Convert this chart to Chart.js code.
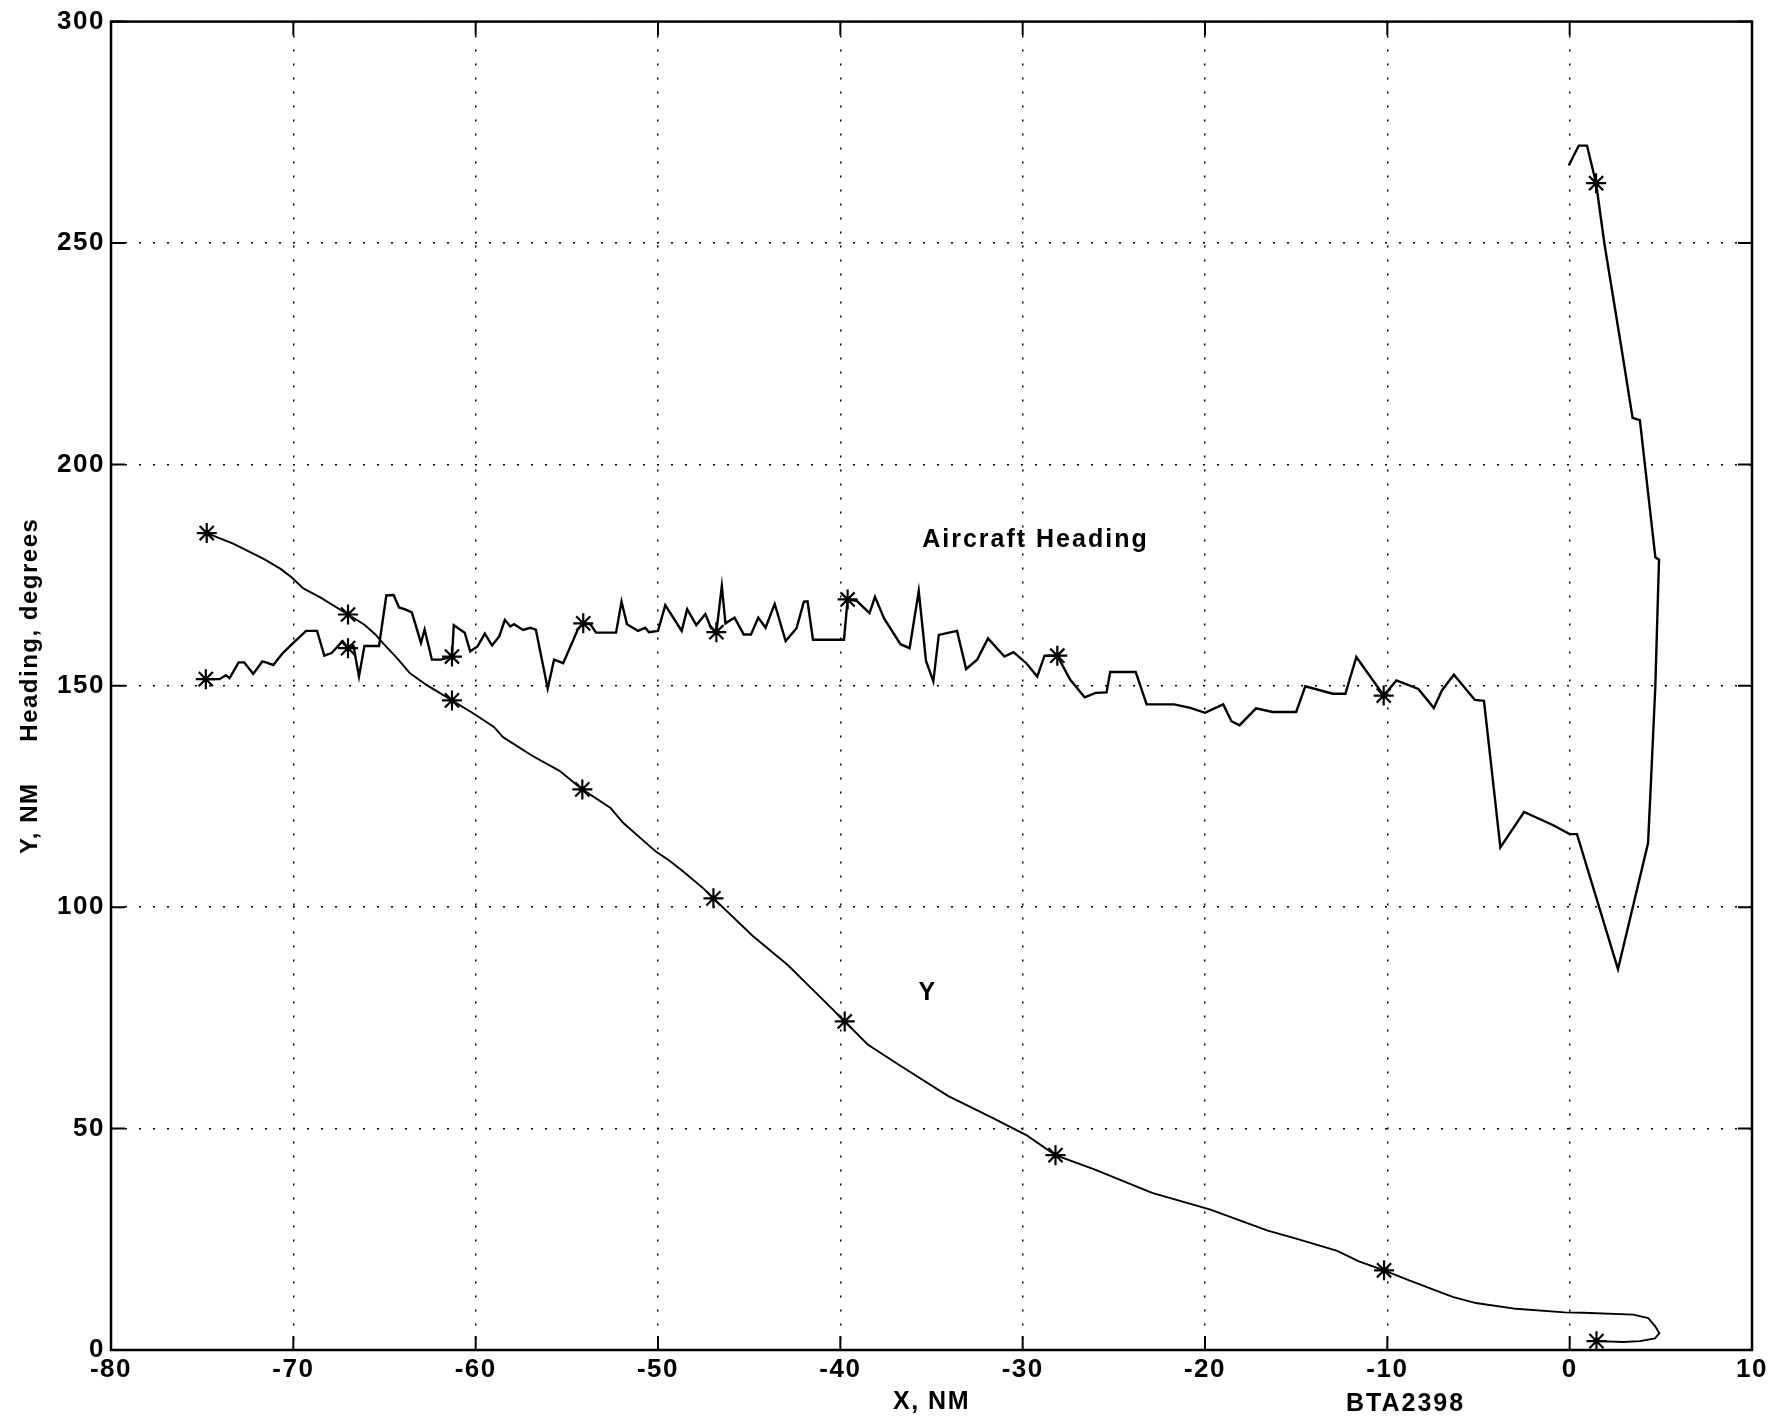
<!DOCTYPE html>
<html>
<head>
<meta charset="utf-8">
<script src="https://cdn.jsdelivr.net/npm/chart.js@4.4.0/dist/chart.umd.min.js"></script>
<style>
  html, body { margin: 0; padding: 0; background: #fff; }
  #wrap { width: 1790px; height: 1425px; position: relative; }
</style>
</head>
<body>
<div id="wrap"><canvas id="grafico"></canvas></div>
<script>
// Trajetória: posição Y (NM) em função de X (NM)
const trackX = [-74.75, -73.3, -71.6, -70.7, -70.1, -69.45, -68.5, -67.0, -66.1, -65.5, -65.1, -64.3, -63.6, -62.7,
  -61.3, -60.1, -59.0, -58.5, -56.9, -55.4, -54.15, -52.6, -51.9, -50.1, -49.4, -48.6, -47.5, -46.96, -44.8, -42.9,
  -41.0, -39.76, -38.5, -36.6, -34.1, -31.6, -29.75, -28.2, -26.0, -22.9, -19.7, -16.6, -14.86, -12.75, -11.56,
  -10.18, -8.8, -7.43, -6.42, -5.14, -2.94, -0.28, 0.73, 3.49, 4.31, 4.68, 4.92, 4.68, 3.85, 2.94, 1.47];
const trackY = [184.5, 182.1, 178.6, 176.4, 174.5, 172, 169.9, 166.1, 163.8, 161.6, 159.7, 156.2, 152.8, 150.2,
  146.7, 143.7, 140.7, 138.4, 134.2, 130.8, 126.6, 122.4, 119, 112.5, 110.6, 108, 104.2, 102, 93.5, 87,
  79.3, 74.2, 69, 63.9, 57.4, 52.3, 48.4, 44, 40.7, 35.5, 31.7, 27, 25, 22.4, 20,
  18, 15.7, 13.6, 12, 10.6, 9.3, 8.5, 8.4, 8.0, 7.2, 5.4, 3.8, 2.6, 2.0, 1.8, 2.0];

// Rumo da aeronave (graus) em função de X (NM)
const headingX = [-74.8, -74.05, -73.7, -73.5, -73.0, -72.7, -72.2, -71.7, -71.5, -71.1, -70.6, -70.0, -69.3, -68.7,
  -68.3, -67.9, -67.3, -67.0, -66.7, -66.4, -66.1, -65.3, -64.9, -64.5, -64.2, -63.9, -63.5, -63.0, -62.8, -62.4,
  -61.9, -61.3, -61.2, -60.6, -60.3, -59.9, -59.5, -59.1, -58.7, -58.4, -58.1, -57.9, -57.4, -57.0, -56.7, -56.05,
  -55.7, -55.2, -54.4, -54.1, -53.7, -53.4, -52.3, -52.0, -51.7, -51.1, -50.7, -50.5, -50.0, -49.6, -48.7, -48.4,
  -47.9, -47.4, -47.1, -46.8, -46.5, -46.3, -45.8, -45.3, -44.9, -44.5, -44.1, -43.6, -43.0, -42.4, -42.0, -41.8,
  -41.5, -39.8, -39.6, -39.1, -38.4, -38.1, -37.6, -36.7, -36.2, -35.7, -35.3, -34.9, -34.6, -33.6, -33.1, -32.5,
  -31.9, -31.0, -30.5, -29.8, -29.2, -28.8, -28.1, -27.4, -26.6, -26.0, -25.4, -25.2, -23.8, -23.2, -21.7, -20.8,
  -20.0, -19.0, -18.55, -18.1, -17.2, -16.3, -15.0, -14.5, -13.0, -12.3, -11.7, -10.2, -9.5, -8.3, -7.45, -7.0,
  -6.35, -5.2, -4.7, -3.8, -2.5, -0.9, 0, 0.4, 2.65, 4.3, 4.5, 4.7, 4.9, 4.7, 3.85, 3.45, 2.85, 1.9, 1.45, 0.95,
  0.5, -0.05];
const headingY = [151.5, 151.5, 152.4, 151.7, 155.3, 155.3, 152.7, 155.5, 155.3, 154.7, 157.3, 159.7, 162.4, 162.4,
  156.8, 157.4, 160.1, 158.5, 159, 152.1, 159, 159, 170.4, 170.5, 167.7, 167.3, 166.6, 159.7, 162.7, 155.9,
  155.9, 156.6, 163.7, 162, 157.8, 158.9, 161.8, 159.1, 161.2, 164.9, 163.4, 163.9, 162.6, 163.1, 162.7, 149.4,
  155.9, 155.1, 162.7, 164.1, 163.9, 162, 162, 169, 163.9, 162.4, 163.1, 162.1, 162.4, 168.2, 162.4, 167.3,
  163.7, 166.2, 163.1, 162.1, 172.5, 164.1, 165.4, 161.6, 161.6, 165.4, 163.1, 168.5, 160.1, 163, 169, 169.1,
  160.4, 160.4, 169.5, 169.2, 166.4, 170.1, 165.2, 159.4, 158.5, 171.4, 155.6, 151, 161.5, 162.4, 153.8, 155.9,
  160.7, 156.6, 157.6, 155.1, 152.1, 156.8, 156.8, 151.4, 147.4, 148.4, 148.5, 153.1, 153.1, 145.8, 145.8, 145,
  143.9, 145.8, 142, 141.1, 144.9, 144.1, 144.1, 149.9, 148.2, 148.2, 156.5, 147.8, 151.2, 149.3, 145, 149,
  152.5, 146.8, 146.6, 113.5, 121.5, 118.5, 116.5, 116.5, 86, 114.5, 132, 150, 178.5, 179, 210, 210.5, 226, 250,
  263.5, 272, 272, 267.5];

// Marcas de tempo (asteriscos)
const trackMarkX = [-74.75, -67.0, -61.3, -54.15, -46.96, -39.76, -28.2, -10.18, 1.47];
const trackMarkY = [184.5, 166.1, 146.7, 126.6, 102, 74.2, 44, 18, 2.0];
const headingMarkX = [-74.8, -67.0, -61.3, -54.1, -46.8, -39.6, -28.1, -10.2, 1.45];
const headingMarkY = [151.5, 158.5, 156.6, 164.1, 162.1, 169.5, 156.8, 147.8, 263.5];

// Eixos
const xTicks = [-80, -70, -60, -50, -40, -30, -20, -10, 0, 10];
const yTicks = [0, 50, 100, 150, 200, 250, 300];

const fonte = "'Liberation Sans', Arial, Helvetica, sans-serif";
const pares = (xs, ys) => xs.map((x, i) => ({ x: x, y: ys[i] }));

// Rótulos dentro do gráfico
const rotulos = [
  { text: 'Aircraft Heading', x: -29.3, y: 182.8 },
  { text: 'Y', x: -35.2, y: 80.6 }
];

const molduraPlugin = {
  id: 'moldura',
  beforeDraw(chart) {
    chart.ctx.letterSpacing = '1.5px';
  },
  afterDraw(chart) {
    const ctx = chart.ctx;
    const a = chart.chartArea;
    const sx = chart.scales.x;
    const sy = chart.scales.y;
    ctx.save();
    ctx.strokeStyle = '#000';
    ctx.lineWidth = 2;
    ctx.beginPath();
    xTicks.forEach(v => {
      const p = sx.getPixelForValue(v);
      ctx.moveTo(p, a.bottom); ctx.lineTo(p, a.bottom - 14);
      ctx.moveTo(p, a.top); ctx.lineTo(p, a.top + 14);
    });
    yTicks.forEach(v => {
      const p = sy.getPixelForValue(v);
      ctx.moveTo(a.left, p); ctx.lineTo(a.left + 14, p);
      ctx.moveTo(a.right, p); ctx.lineTo(a.right - 14, p);
    });
    ctx.stroke();
    ctx.lineWidth = 2.5;
    ctx.strokeRect(a.left, a.top, a.right - a.left, a.bottom - a.top);

    ctx.fillStyle = '#000';
    ctx.font = 'bold 25px ' + fonte;
    ctx.letterSpacing = '2px';
    ctx.textAlign = 'center';
    ctx.textBaseline = 'middle';
    rotulos.forEach(r => {
      ctx.fillText(r.text, sx.getPixelForValue(r.x), sy.getPixelForValue(r.y));
    });
    ctx.fillText('BTA2398', sx.getPixelForValue(-9.0), chart.height - 21);
    ctx.restore();
  }
};

const estiloEixo = {
  grid: { color: '#000', lineWidth: 1.5, drawTicks: false },
  border: { display: false, dash: [2, 12] }
};

new Chart(document.getElementById('grafico'), {
  type: 'scatter',
  data: {
    datasets: [
      {
        label: 'Aircraft Heading',
        data: pares(headingX, headingY),
        showLine: true,
        borderColor: '#000',
        borderWidth: 2.4,
        pointRadius: 0,
        tension: 0
      },
      {
        label: 'Y',
        data: pares(trackX, trackY),
        showLine: true,
        borderColor: '#000',
        borderWidth: 1.9,
        pointRadius: 0,
        tension: 0
      },
      {
        label: 'Heading marks',
        data: pares(headingMarkX, headingMarkY),
        showLine: false,
        pointStyle: 'star',
        pointRadius: 10,
        pointBorderWidth: 2.2,
        borderColor: '#000',
        backgroundColor: '#000'
      },
      {
        label: 'Y marks',
        data: pares(trackMarkX, trackMarkY),
        showLine: false,
        pointStyle: 'star',
        pointRadius: 10,
        pointBorderWidth: 2.2,
        borderColor: '#000',
        backgroundColor: '#000'
      }
    ]
  },
  options: {
    responsive: true,
    maintainAspectRatio: false,
    animation: false,
    layout: { padding: { top: 21, right: 38, bottom: 0, left: 0 } },
    plugins: {
      legend: { display: false },
      tooltip: { enabled: false }
    },
    scales: {
      x: {
        type: 'linear',
        min: -80,
        max: 10,
        afterBuildTicks: s => { s.ticks = xTicks.map(v => ({ value: v })); },
        afterFit: s => { s.height = 75; },
        grid: estiloEixo.grid,
        border: estiloEixo.border,
        ticks: {
          color: '#000',
          padding: 4,
          maxRotation: 0,
          autoSkip: false,
          font: { family: fonte, size: 26, weight: 'bold' }
        },
        title: {
          display: true,
          text: 'X, NM',
          color: '#000',
          padding: { top: 0, bottom: 8 },
          font: { family: fonte, size: 25, weight: 'bold' }
        }
      },
      y: {
        type: 'linear',
        min: 0,
        max: 300,
        afterBuildTicks: s => { s.ticks = yTicks.map(v => ({ value: v })); },
        afterFit: s => { s.width = 111; },
        grid: estiloEixo.grid,
        border: estiloEixo.border,
        ticks: {
          color: '#000',
          padding: 6,
          font: { family: fonte, size: 26, weight: 'bold' }
        },
        title: {
          display: true,
          text: 'Y, NM     Heading, degrees',
          color: '#000',
          padding: { top: 16, bottom: 0 },
          font: { family: fonte, size: 24, weight: 'bold' }
        }
      }
    }
  },
  plugins: [molduraPlugin]
});
</script>
</body>
</html>
